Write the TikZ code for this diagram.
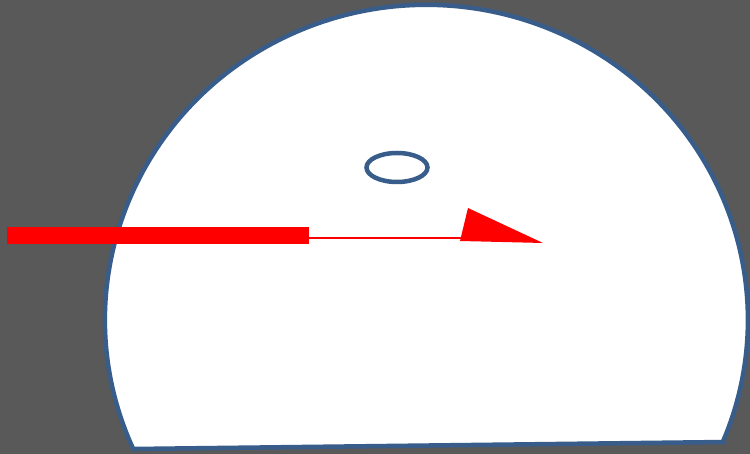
\documentclass[tikz,border=0pt]{standalone}
\usepackage{tikz}
\definecolor{bggray}{HTML}{595959}
\definecolor{outlineblue}{HTML}{385D8A}
\definecolor{pure red}{HTML}{FF0000}
\tikzset{
  outline/.style={draw=outlineblue, line width=4.5pt},
  redfill/.style={fill=pure red, draw=none},
}
\begin{document}
\begin{tikzpicture}[x=1pt,y=1pt]
  % background / bounding box
  \fill[bggray] (0,0) rectangle (750,454);
  \useasboundingbox (0,0) rectangle (750,454);
  % dome shape
  \coordinate (domeleft) at (133.2,5);
  \draw[outline, fill=white, line join=miter]
    (domeleft) arc[start angle=204.2, end angle=-22.8, x radius=321.5, y radius=315]
    -- (726,12) -- cycle;
  % small ellipse
  \draw[outline] (397,286.5) ellipse[x radius=30.5, y radius=14.5];
  % red bar
  \fill[redfill] (7,210) rectangle (309,227);
  % thin line
  \coordinate (lineStart) at (309,216);
  \coordinate (lineEnd) at (461,216);
  \draw[pure red, line width=2pt] (lineStart) -- (lineEnd);
  % triangle
  \fill[redfill] (468,246) -- (460,213) -- (543,211) -- cycle;
\end{tikzpicture}
\end{document}
